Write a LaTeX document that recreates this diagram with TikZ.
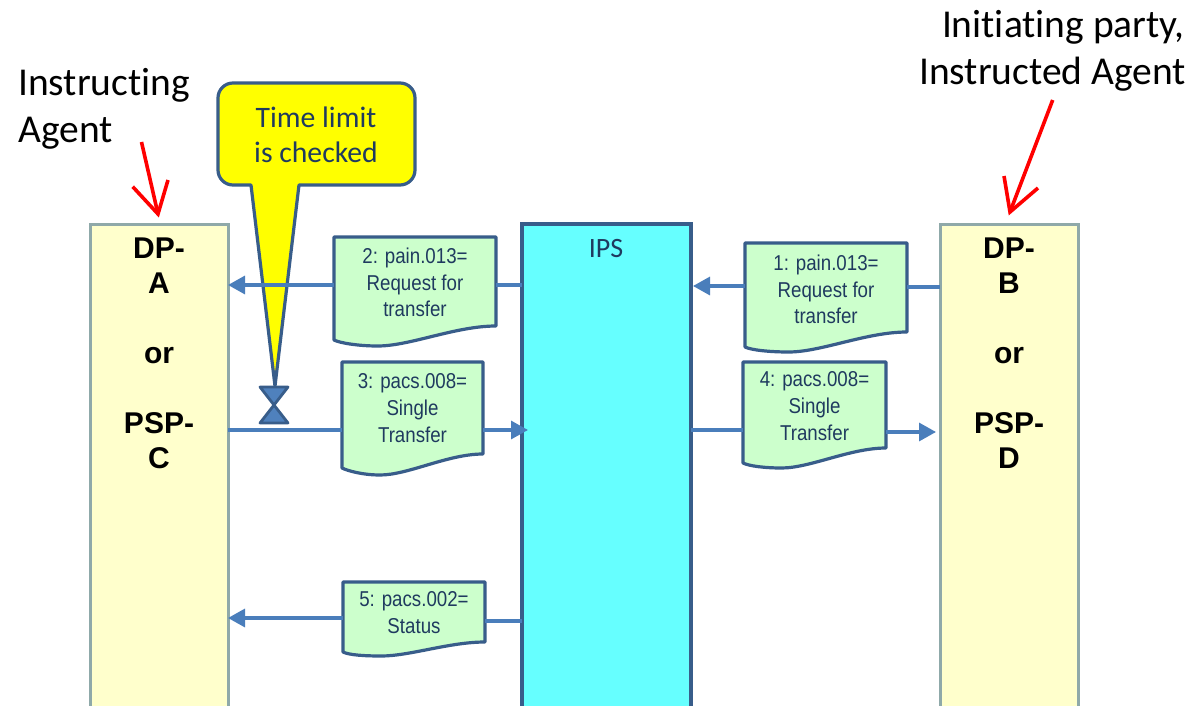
\documentclass[tikz,border=0pt]{standalone}
\usepackage{fontspec}
\setmainfont[Ligatures=NoCommon]{Carlito}
\newfontfamily\armain{Liberation Sans}
\newfontfamily\arnarrow[FakeStretch=0.87]{Liberation Sans}
\usetikzlibrary{arrows.meta,calc}
\definecolor{bluedge}{HTML}{385D8A}
\definecolor{bluearrow}{HTML}{4A7EBB}
\definecolor{bluefill}{HTML}{4F81BD}
\definecolor{paneledge}{HTML}{8FA9A9}
\definecolor{panelfill}{HTML}{FFFFCC}
\definecolor{docfill}{HTML}{CCFFCC}
\definecolor{ipsfill}{HTML}{66FFFF}
\definecolor{doctext}{HTML}{1F3A5F}
\definecolor{callfill}{HTML}{FFFF00}
\definecolor{redline}{HTML}{FF0000}
\tikzset{
  panelbox/.style={draw=paneledge,fill=panelfill,line width=3pt,inner sep=0pt,outer sep=0pt,anchor=north west},
  ipsbox/.style={draw=bluedge,fill=ipsfill,line width=3.2pt,inner sep=0pt,outer sep=0pt,anchor=north west},
  paneltext/.style={font=\armain\bfseries\fontsize{30}{35}\selectfont,align=center,anchor=north,inner sep=0pt,text=black},
  docshape/.style={draw=bluedge,fill=docfill,line width=3.2pt,line join=round},
  doctxt/.style={font=\arnarrow\fontsize{21.5}{26.8}\selectfont,align=center,anchor=north,inner sep=0pt,text=doctext},
  docanchor/.style={inner sep=0pt,outer sep=0pt},
  flow/.style={draw=bluearrow,line width=3.2pt},
  flowtip/.style={flow,-{Triangle[length=17pt,width=18pt]}},
  redarrow/.style={draw=redline,line width=3.6pt,line join=miter},
  titletxt/.style={font=\fontsize{39.5}{46}\selectfont,inner sep=0pt,text=black},
}
% name, left, right, top, right bottom, left bottom, lowest y, connector y, first baseline, text
\newcommand{\docnode}[8]{%
  \def\dname{#1}\def\dL{#2}\def\dR{#3}\def\dT{#4}\def\dRB{#5}\def\dLB{#6}\def\dMY{#7}\def\dCY{#8}\docnodeb}
\newcommand{\docnodeb}[2]{%
  \pgfmathsetmacro{\dW}{\dR-\dL}
  \pgfmathsetmacro{\dMX}{\dL+0.27*\dW}
  \pgfmathsetmacro{\dA}{\dR-0.25*\dW}
  \pgfmathsetmacro{\dB}{\dMX+0.2*\dW}
  \pgfmathsetmacro{\dC}{\dMX-0.12*\dW}
  \pgfmathsetmacro{\dCX}{(\dL+\dR)/2}
  \pgfmathsetmacro{\dH}{2*(\dCY-\dT)}
  \path[docshape] (\dL,\dT) -- (\dR,\dT) -- (\dR,\dRB)
     .. controls (\dA,\dRB) and (\dB,\dMY) .. (\dMX,\dMY)
     .. controls (\dC,\dMY) and (\dL+6,\dLB+3) .. (\dL,\dLB) -- cycle;
  \node[docanchor,minimum width=\dW pt,minimum height=\dH pt] (\dname) at (\dCX,\dCY) {};
  \pgfmathsetmacro{\dTY}{#1-15.5}
  \node[doctxt] (\dname-text) at (\dCX,\dTY) {#2};
}
\begin{document}
\begin{tikzpicture}[x=1pt,y=-1pt]
\useasboundingbox (0,0) rectangle (1189,706);
\clip (0,0) rectangle (1189,706);
\fill[white] (0,0) rectangle (1189,706);

% panels
\node[panelbox,minimum width=138pt,minimum height=500pt] (dpa) at (90,224) {};
\node[panelbox,minimum width=138pt,minimum height=500pt] (dpb) at (940,224) {};
\node[ipsbox,minimum width=169pt,minimum height=500pt] (ips) at (522,224) {};
\node[paneltext] (dpatext) at (159,238) {DP-\\A\\[35pt]or\\[35pt]PSP-\\C};
\node[paneltext] (dpbtext) at (1009,238) {DP-\\B\\[35pt]or\\[35pt]PSP-\\D};
\node[font=\fontsize{28}{32}\selectfont,inner sep=0pt,text=doctext] (ipstext) at (606,249) {IPS};

% callout
\path[draw=bluedge,fill=callfill,line width=3.2pt,line join=round]
  (233,83) -- (400,83) arc[start angle=90,end angle=0,x radius=15,y radius=-15]
  -- (415,170) arc[start angle=0,end angle=-90,x radius=15,y radius=-15]
  -- (299,185) -- (275,386) -- (251,185) -- (233,185)
  arc[start angle=-90,end angle=-180,x radius=15,y radius=-15]
  -- (218,98) arc[start angle=180,end angle=90,x radius=15,y radius=-15] -- cycle;
\node[font=\fontsize{29.7}{35}\selectfont,align=center,inner sep=0pt,text=doctext] (calltext) at (316,135) {Time limit\\is checked};
\coordinate (hgc) at (274,405);
\path[draw=bluedge,fill=bluefill,line width=2.8pt,line join=round]
  (260,387) -- (288,387) -- (hgc) -- (288,423) -- (260,423) -- (hgc) -- cycle;

% documents
\docnode{doc1}{745}{907}{243}{332}{347}{352}{286}{270}{1: pain.013=\\Request for\\transfer}
\docnode{doc2}{334}{496}{237}{326}{340}{346}{285}{263}{2: pain.013=\\Request for\\transfer}
\docnode{doc3}{342}{483}{362}{454}{468}{475}{430}{389}{3: pacs.008=\\Single\\Transfer}
\docnode{doc4}{743}{886}{362}{448}{463}{468}{430}{387}{4: pacs.008=\\Single\\Transfer}
\docnode{doc5}{343}{485}{582}{642}{652}{656}{618}{607}{5: pacs.002=\\Status}

% connectors
\draw[flow] (dpb.west |- 0,287) -- (doc1.east |- 0,287);
\draw[flowtip] (doc1.west) -- (693,286);
\draw[flow] (ips.west |- doc2.east) -- (doc2.east);
\draw[flowtip] (doc2.west) -- (dpa.east |- doc2.west);
\draw[flow] (dpa.east |- doc3.west) -- (doc3.west);
\draw[flowtip] (doc3.east) -- (528,430);
\draw[flow] (ips.east |- doc4.west) -- (doc4.west);
\draw[flowtip] (doc4.east |- 0,432) -- (936,432);
\draw[flow] (ips.west |- 0,621) -- (doc5.east |- 0,621);
\draw[flowtip] (doc5.west) -- (dpa.east |- doc5.west);

% titles and red arrows
\node[titletxt,anchor=base west] (instr1) at (18,96) {Instructing};
\node[titletxt,anchor=base west] (instr2) at (18.5,142.5) {Agent};
\node[titletxt,anchor=base east] (init1) at (1185,38) {Initiating party,};
\node[titletxt,anchor=base east] (init2) at (1186,84.5) {Instructed Agent};
\coordinate (ra) at (158,214);
\coordinate (rb) at (1010,212);
\draw[redarrow] (141.5,142) -- (ra);
\draw[redarrow] (132.7,186.7) -- (ra) -- (168,180);
\draw[redarrow] (1052.7,100) -- (rb);
\draw[redarrow] (1004,176) -- (rb) -- (1038,188);
\end{tikzpicture}
\end{document}
